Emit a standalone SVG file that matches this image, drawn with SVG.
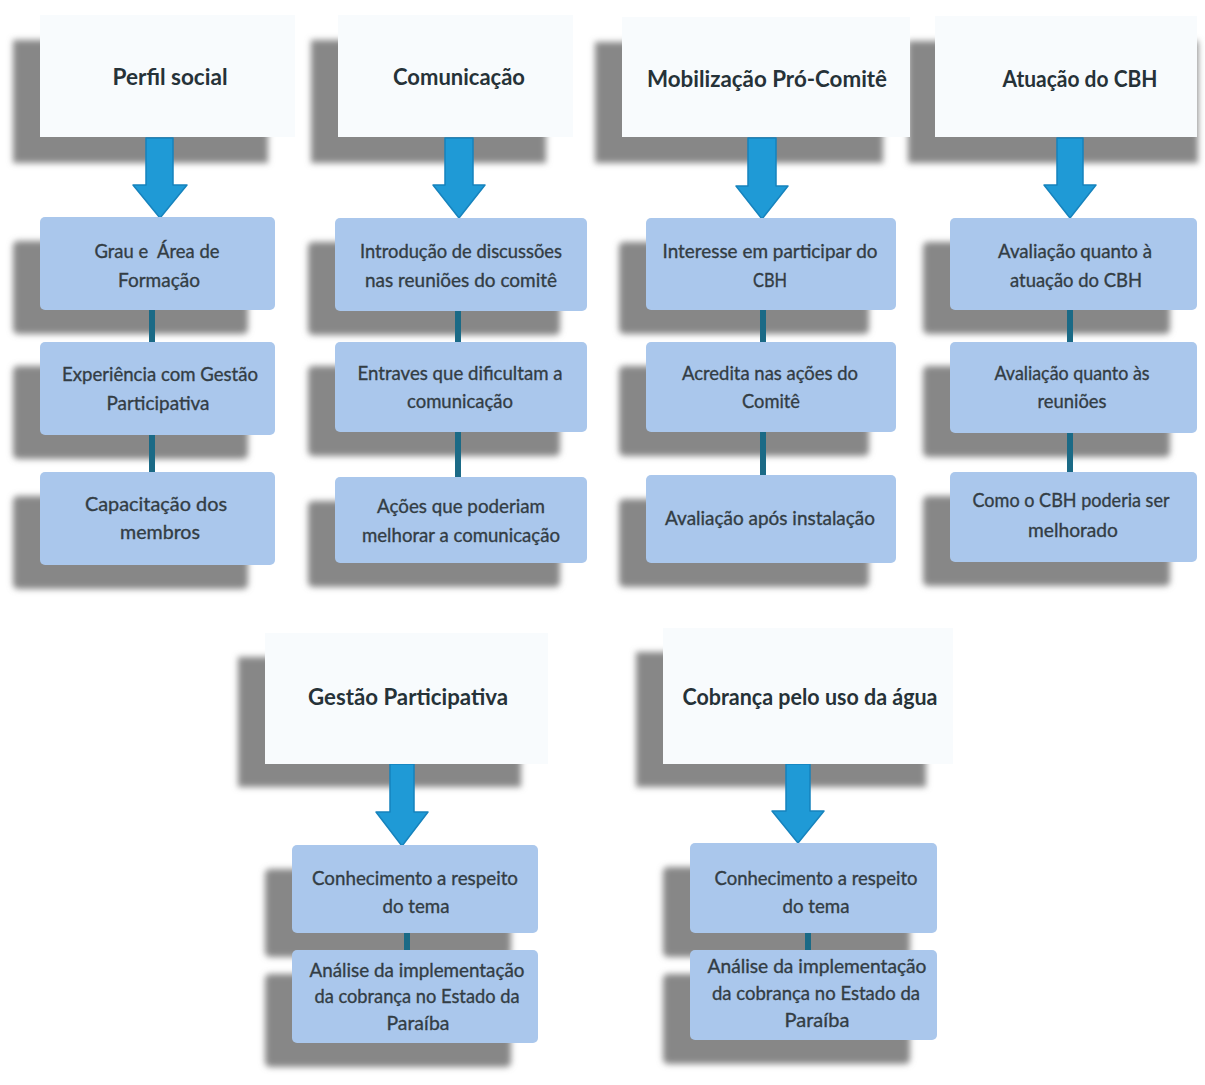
<svg xmlns="http://www.w3.org/2000/svg" width="1205" height="1085" viewBox="0 0 1205 1085">
  <defs>
    <filter id="soft" x="-20%" y="-20%" width="140%" height="140%">
      <feGaussianBlur stdDeviation="3"/>
    </filter>
    <style>
      .shadow { fill: #878787; filter: url(#soft); }
      .head { fill: #f8fbfd; }
      .item { fill: #aac7ec; }
      .arrow { fill: #1f9ad6; stroke: #1683bd; stroke-width: 1.5; stroke-linejoin: round; }
      .link { stroke: #1b6a86; stroke-width: 6; }
      .h { font-family: Lato, "Open Sans", "Liberation Sans", sans-serif; font-weight: 700; font-size: 23px; fill: #263238; text-anchor: middle; }
      .b { font-family: Lato, "Open Sans", "Liberation Sans", sans-serif; font-size: 20px; fill: #333d44; stroke: #333d44; stroke-width: 0.35; text-anchor: middle; }
    </style>
  </defs>

  <rect width="1205" height="1085" fill="#ffffff"/>

  <!-- drop shadows, drawn beneath every box -->
  <g id="shadows">
    <rect class="shadow" x="13" y="40" width="255" height="123"/>
    <rect class="shadow" x="311" y="40" width="235" height="123"/>
    <rect class="shadow" x="595" y="42" width="288" height="121"/>
    <rect class="shadow" x="908" y="41" width="290" height="122"/>
    <rect class="shadow" x="238" y="657" width="283" height="130"/>
    <rect class="shadow" x="636" y="652" width="290" height="135"/>

    <rect class="shadow" x="13" y="241" width="235" height="93" rx="5"/>
    <rect class="shadow" x="13" y="366" width="235" height="93" rx="5"/>
    <rect class="shadow" x="13" y="496" width="235" height="93" rx="5"/>
    <rect class="shadow" x="308" y="242" width="252" height="93" rx="5"/>
    <rect class="shadow" x="308" y="366" width="252" height="90" rx="5"/>
    <rect class="shadow" x="308" y="501" width="252" height="86" rx="5"/>
    <rect class="shadow" x="619" y="242" width="250" height="92" rx="5"/>
    <rect class="shadow" x="619" y="366" width="250" height="90" rx="5"/>
    <rect class="shadow" x="619" y="499" width="250" height="88" rx="5"/>
    <rect class="shadow" x="923" y="242" width="247" height="92" rx="5"/>
    <rect class="shadow" x="923" y="366" width="247" height="91" rx="5"/>
    <rect class="shadow" x="923" y="496" width="247" height="90" rx="5"/>
    <rect class="shadow" x="265" y="869" width="246" height="88" rx="5"/>
    <rect class="shadow" x="265" y="974" width="246" height="93" rx="5"/>
    <rect class="shadow" x="663" y="867" width="247" height="90" rx="5"/>
    <rect class="shadow" x="663" y="974" width="247" height="90" rx="5"/>
  </g>

  <!-- arrows and links -->
  <g id="connectors">
    <path class="arrow" d="M146,138 H173 V185 H187 L160,218 L133,185 H146 Z"/>
    <path class="arrow" d="M445,138 H473 V185 H485 L459,218 L433,185 H445 Z"/>
    <path class="arrow" d="M748,138 H776 V186 H788 L762,219 L736,186 H748 Z"/>
    <path class="arrow" d="M1057,138 H1083 V185 H1096 L1070,218 L1044,185 H1057 Z"/>
    <path class="arrow" d="M390,764 H414 V812 H428 L402,846 L376,812 H390 Z"/>
    <path class="arrow" d="M786,764 H810 V811 H824 L798,843 L772,811 H786 Z"/>

    <line class="link" x1="152" y1="310" x2="152" y2="342"/>
    <line class="link" x1="152" y1="435" x2="152" y2="472"/>
    <line class="link" x1="458" y1="311" x2="458" y2="342"/>
    <line class="link" x1="458" y1="432" x2="458" y2="477"/>
    <line class="link" x1="763" y1="310" x2="763" y2="342"/>
    <line class="link" x1="763" y1="432" x2="763" y2="475"/>
    <line class="link" x1="1070" y1="310" x2="1070" y2="342"/>
    <line class="link" x1="1070" y1="433" x2="1070" y2="472"/>
    <line class="link" x1="407" y1="933" x2="407" y2="950"/>
    <line class="link" x1="808" y1="933" x2="808" y2="950"/>
  </g>

  <!-- Perfil social -->
  <g id="perfil-social">
    <rect class="head" x="40" y="15" width="255" height="122"/>
    <text class="h" x="170" y="85" textLength="115" lengthAdjust="spacingAndGlyphs">Perfil social</text>
  </g>
  <g id="grau-formacao">
    <rect class="item" x="40" y="217" width="235" height="93" rx="5"/>
    <text class="b" x="157" y="258" textLength="125" lengthAdjust="spacingAndGlyphs" xml:space="preserve">Grau e  Área de</text>
    <text class="b" x="159" y="287" textLength="82" lengthAdjust="spacingAndGlyphs">Formação</text>
  </g>
  <g id="experiencia">
    <rect class="item" x="40" y="342" width="235" height="93" rx="5"/>
    <text class="b" x="160" y="381" textLength="196" lengthAdjust="spacingAndGlyphs">Experiência com Gestão</text>
    <text class="b" x="158" y="410" textLength="103" lengthAdjust="spacingAndGlyphs">Participativa</text>
  </g>
  <g id="capacitacao">
    <rect class="item" x="40" y="472" width="235" height="93" rx="5"/>
    <text class="b" x="156" y="511" textLength="142" lengthAdjust="spacingAndGlyphs">Capacitação dos</text>
    <text class="b" x="160" y="539" textLength="80" lengthAdjust="spacingAndGlyphs">membros</text>
  </g>

  <!-- Comunicação -->
  <g id="comunicacao">
    <rect class="head" x="338" y="15" width="235" height="122"/>
    <text class="h" x="459" y="85" textLength="132" lengthAdjust="spacingAndGlyphs">Comunicação</text>
  </g>
  <g id="introducao">
    <rect class="item" x="335" y="218" width="252" height="93" rx="5"/>
    <text class="b" x="461" y="258" textLength="202" lengthAdjust="spacingAndGlyphs">Introdução de discussões</text>
    <text class="b" x="461" y="287" textLength="192" lengthAdjust="spacingAndGlyphs">nas reuniões do comitê</text>
  </g>
  <g id="entraves">
    <rect class="item" x="335" y="342" width="252" height="90" rx="5"/>
    <text class="b" x="460" y="380" textLength="205" lengthAdjust="spacingAndGlyphs">Entraves que dificultam a</text>
    <text class="b" x="460" y="408" textLength="106" lengthAdjust="spacingAndGlyphs">comunicação</text>
  </g>
  <g id="acoes">
    <rect class="item" x="335" y="477" width="252" height="86" rx="5"/>
    <text class="b" x="461" y="513" textLength="168" lengthAdjust="spacingAndGlyphs">Ações que poderiam</text>
    <text class="b" x="461" y="542" textLength="198" lengthAdjust="spacingAndGlyphs">melhorar a comunicação</text>
  </g>

  <!-- Mobilização Pró-Comitê -->
  <g id="mobilizacao">
    <rect class="head" x="622" y="17" width="288" height="120"/>
    <text class="h" x="767" y="87" textLength="240" lengthAdjust="spacingAndGlyphs">Mobilização Pró-Comitê</text>
  </g>
  <g id="interesse">
    <rect class="item" x="646" y="218" width="250" height="92" rx="5"/>
    <text class="b" x="770" y="258" textLength="215" lengthAdjust="spacingAndGlyphs">Interesse em participar do</text>
    <text class="b" x="770" y="287" textLength="34" lengthAdjust="spacingAndGlyphs">CBH</text>
  </g>
  <g id="acredita">
    <rect class="item" x="646" y="342" width="250" height="90" rx="5"/>
    <text class="b" x="770" y="380" textLength="176" lengthAdjust="spacingAndGlyphs">Acredita nas ações do</text>
    <text class="b" x="771" y="408" textLength="58" lengthAdjust="spacingAndGlyphs">Comitê</text>
  </g>
  <g id="avaliacao-instalacao">
    <rect class="item" x="646" y="475" width="250" height="88" rx="5"/>
    <text class="b" x="770" y="525" textLength="210" lengthAdjust="spacingAndGlyphs">Avaliação após instalação</text>
  </g>

  <!-- Atuação do CBH -->
  <g id="atuacao">
    <rect class="head" x="935" y="16" width="262" height="121"/>
    <text class="h" x="1080" y="87" textLength="155" lengthAdjust="spacingAndGlyphs">Atuação do CBH</text>
  </g>
  <g id="avaliacao-atuacao">
    <rect class="item" x="950" y="218" width="247" height="92" rx="5"/>
    <text class="b" x="1075" y="258" textLength="154" lengthAdjust="spacingAndGlyphs">Avaliação quanto à</text>
    <text class="b" x="1076" y="287" textLength="132" lengthAdjust="spacingAndGlyphs">atuação do CBH</text>
  </g>
  <g id="avaliacao-reunioes">
    <rect class="item" x="950" y="342" width="247" height="91" rx="5"/>
    <text class="b" x="1072" y="380" textLength="155" lengthAdjust="spacingAndGlyphs">Avaliação quanto às</text>
    <text class="b" x="1072" y="408" textLength="69" lengthAdjust="spacingAndGlyphs">reuniões</text>
  </g>
  <g id="melhoria-cbh">
    <rect class="item" x="950" y="472" width="247" height="90" rx="5"/>
    <text class="b" x="1071" y="507" textLength="197" lengthAdjust="spacingAndGlyphs">Como o CBH poderia ser</text>
    <text class="b" x="1073" y="537" textLength="90" lengthAdjust="spacingAndGlyphs">melhorado</text>
  </g>

  <!-- Gestão Participativa -->
  <g id="gestao">
    <rect class="head" x="265" y="633" width="283" height="131"/>
    <text class="h" x="408" y="705" textLength="200" lengthAdjust="spacingAndGlyphs">Gestão Participativa</text>
  </g>
  <g id="gestao-conhecimento">
    <rect class="item" x="292" y="845" width="246" height="88" rx="5"/>
    <text class="b" x="415" y="885" textLength="206" lengthAdjust="spacingAndGlyphs">Conhecimento a respeito</text>
    <text class="b" x="416" y="913" textLength="67" lengthAdjust="spacingAndGlyphs">do tema</text>
  </g>
  <g id="gestao-analise">
    <rect class="item" x="292" y="950" width="246" height="93" rx="5"/>
    <text class="b" x="417" y="977" textLength="215" lengthAdjust="spacingAndGlyphs">Análise da implementação</text>
    <text class="b" x="417" y="1003" textLength="205" lengthAdjust="spacingAndGlyphs">da cobrança no Estado da</text>
    <text class="b" x="418" y="1030" textLength="63" lengthAdjust="spacingAndGlyphs">Paraíba</text>
  </g>

  <!-- Cobrança pelo uso da água -->
  <g id="cobranca">
    <rect class="head" x="663" y="628" width="290" height="136"/>
    <text class="h" x="810" y="705" textLength="255" lengthAdjust="spacingAndGlyphs">Cobrança pelo uso da água</text>
  </g>
  <g id="cobranca-conhecimento">
    <rect class="item" x="690" y="843" width="247" height="90" rx="5"/>
    <text class="b" x="816" y="885" textLength="203" lengthAdjust="spacingAndGlyphs">Conhecimento a respeito</text>
    <text class="b" x="816" y="913" textLength="67" lengthAdjust="spacingAndGlyphs">do tema</text>
  </g>
  <g id="cobranca-analise">
    <rect class="item" x="690" y="950" width="247" height="90" rx="5"/>
    <text class="b" x="817" y="973" textLength="219" lengthAdjust="spacingAndGlyphs">Análise da implementação</text>
    <text class="b" x="816" y="1000" textLength="208" lengthAdjust="spacingAndGlyphs">da cobrança no Estado da</text>
    <text class="b" x="817" y="1027" textLength="65" lengthAdjust="spacingAndGlyphs">Paraíba</text>
  </g>
</svg>
